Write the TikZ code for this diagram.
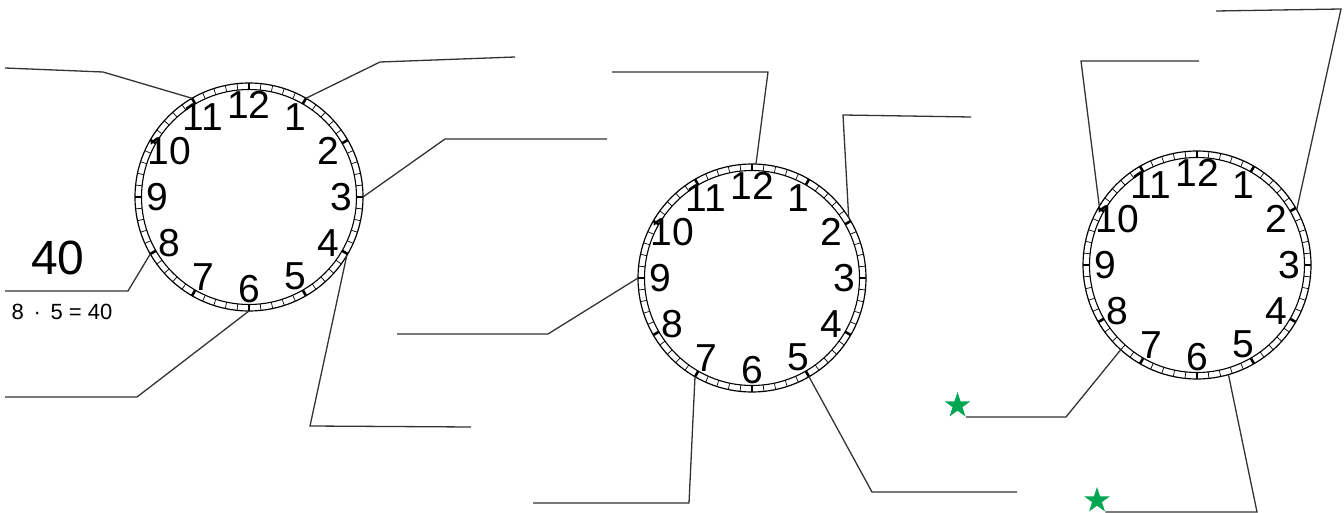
\documentclass[tikz,border=0pt]{standalone}
\usepackage{fontspec}
\setmainfont{Liberation Sans}
\usetikzlibrary{shapes.geometric}
\definecolor{stargreen}{HTML}{00A651}
\definecolor{linegray}{HTML}{333333}

\tikzset{
  clockface/.style={circle, draw, line width=1.2pt, minimum size=228pt, inner sep=0pt, outer sep=0pt},
  minutetick/.style={line width=0.7pt},
  hourtick/.style={line width=2.6pt},
  numeral/.style={inner sep=0pt, font=\fontsize{39}{39}\selectfont},
  answerline/.style={draw=linegray, line width=1.3pt},
  greenstar/.style={star, star points=5, star point ratio=2.6, minimum size=27pt, inner sep=0pt, fill=stargreen}
}

% one dial: name, centre
\newcommand{\clockdial}[2]{%
  \node[clockface] (#1) at (#2) {};
  \begin{scope}[shift={(#1.center)}]
    \draw[line width=1.1pt] (0,0) circle[radius=107.5];
    \foreach \m in {0,...,59}
      \draw[minutetick] ({\m*6}:107.5) -- ({\m*6}:114);
    \foreach \h in {1,...,12}
      \draw[hourtick] ({\h*30}:107.5) -- ({\h*30}:114);
    \foreach \h in {1,...,12}
      \node[numeral] (#1-\h) at ({90-\h*30}:92) {\h};
  \end{scope}
}

\begin{document}
\begin{tikzpicture}[x=1pt, y=1pt]
  \useasboundingbox (0,0) rectangle (1344,-513);

  % the three dials
  \clockdial{c1}{249,-197}
  \clockdial{c2}{752,-278}
  \clockdial{c3}{1197,-265}

  % Left dial: answer lines
  \coordinate (a1) at (5,-68);
  \coordinate (a2) at (515,-57);
  \coordinate (a3) at (607,-139);
  \coordinate (a4) at (471,-427);
  \coordinate (a5) at (5,-397);
  \coordinate (a6) at (5,-291);
  \draw[answerline] (c1.120) -- (103,-72) -- (a1);
  \draw[answerline] (c1.60) -- (380,-62) -- (a2);
  \draw[answerline] (c1.0) -- (445,-139) -- (a3);
  \draw[answerline] (c1.-31) -- (310,-426) -- (a4);
  \draw[answerline] (c1.-90) -- (137,-397) -- (a5);
  \draw[answerline] (c1.210) -- (128,-291) -- (a6);

  % worked example on the 8
  \node[font=\fontsize{48}{48}\selectfont] (ans) at (58,-258) {40};
  \node[font=\fontsize{22}{22}\selectfont] (calc) at (62,-312) {8\ \,·\ \,5 = 40};

  % Middle dial: answer lines
  \coordinate (b1) at (612,-72);
  \coordinate (b2) at (971,-117);
  \coordinate (b3) at (397,-334);
  \coordinate (b4) at (533,-503);
  \coordinate (b5) at (1017,-492);
  \draw[answerline] (c2.88) -- (768,-72) -- (b1);
  \draw[answerline] (c2.32) -- (843,-115) -- (b2);
  \draw[answerline] (c2.180) -- (548,-334) -- (b3);
  \draw[answerline] (c2.240) -- (689,-503) -- (b4);
  \draw[answerline] (c2.-60) -- (872,-492) -- (b5);

  % Right dial: answer lines, two marked with stars
  \coordinate (d1) at (1199,-61);
  \coordinate (d2) at (1216,-11);
  \draw[answerline] (c3.149) -- (1081,-61) -- (d1);
  \draw[answerline] (c3.29) -- (1341,-9) -- (d2);
  \node[greenstar] (s1) at (957.5,-405.5) {};
  \node[greenstar] (s2) at (1097,-500.5) {};
  \draw[answerline] (s1.outer point 4) -- (1066,-417) -- (c3.228);
  \draw[answerline] (s2.outer point 4) -- (1257,-512) -- (c3.-74);
\end{tikzpicture}
\end{document}
